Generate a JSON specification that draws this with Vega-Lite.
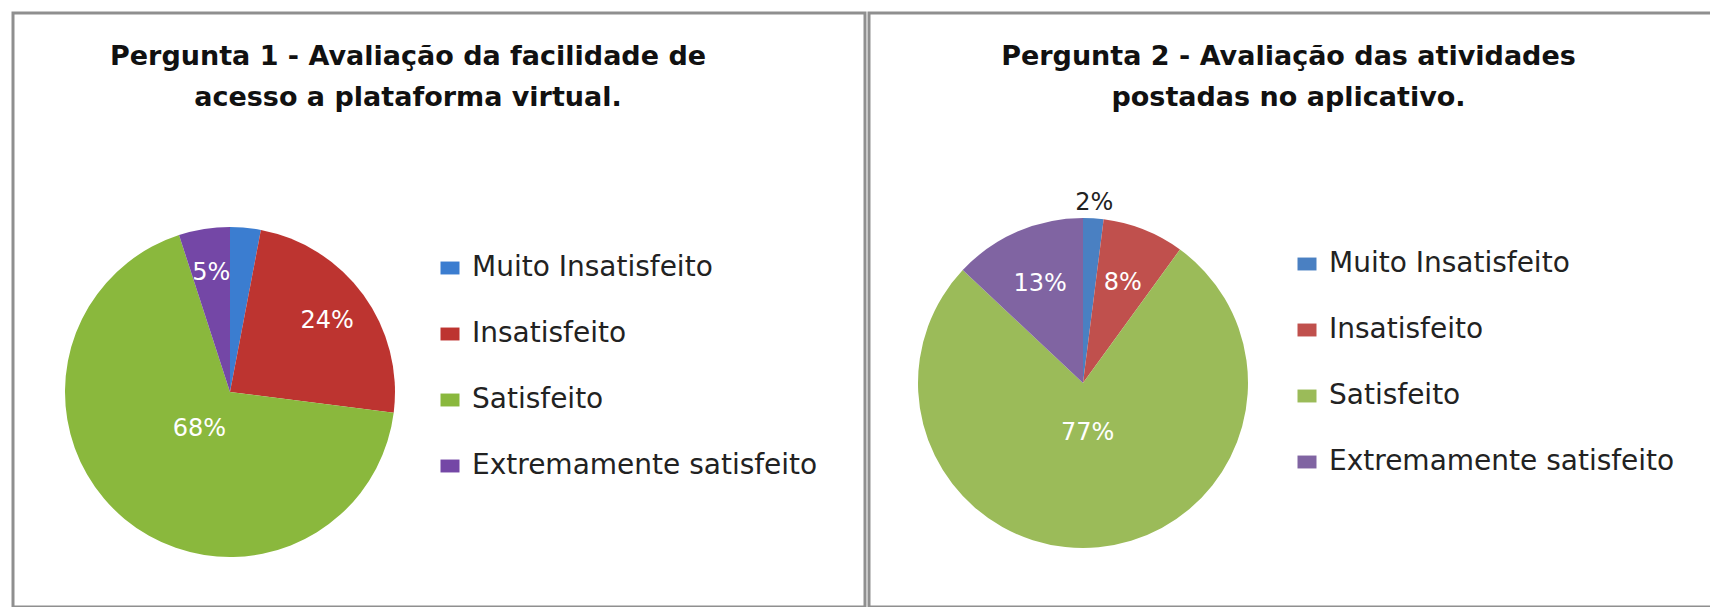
{
  "$schema": "https://vega.github.io/schema/vega-lite/v6.json",
  "padding": {"left": 11, "top": 11, "right": 0, "bottom": 0},
  "background": "white",
  "spacing": 0,
  "datasets": {
    "p1": [
      {"cat": "Muito Insatisfeito", "ord": 1, "pct": 3, "label": ""},
      {"cat": "Insatisfeito", "ord": 2, "pct": 24, "label": "24%"},
      {"cat": "Satisfeito", "ord": 3, "pct": 68, "label": "68%"},
      {"cat": "Extremamente satisfeito", "ord": 4, "pct": 5, "label": "5%"}
    ],
    "p2": [
      {"cat": "Muito Insatisfeito", "ord": 1, "pct": 2, "label": "2%"},
      {"cat": "Insatisfeito", "ord": 2, "pct": 8, "label": "8%"},
      {"cat": "Satisfeito", "ord": 3, "pct": 77, "label": "77%"},
      {"cat": "Extremamente satisfeito", "ord": 4, "pct": 13, "label": "13%"}
    ]
  },
  "hconcat": [
    {
      "width": 852,
      "height": 594,
      "view": {"stroke": "#8f8f8f", "strokeWidth": 3},
      "data": {"name": "p1"},
      "title": {"text": ["Pergunta 1 - Avaliação da facilidade de", "acesso a plataforma virtual."], "dx": -31},
      "encoding": {
        "theta": {"field": "pct", "type": "quantitative", "stack": true},
        "order": {"field": "ord", "type": "quantitative"},
        "color": {
          "field": "cat", "type": "nominal",
          "sort": ["Muito Insatisfeito", "Insatisfeito", "Satisfeito", "Extremamente satisfeito"],
          "scale": {"domain": ["Muito Insatisfeito", "Insatisfeito", "Satisfeito", "Extremamente satisfeito"], "range": ["#3b7dd0", "#bd3430", "#8ab83d", "#7447a6"]},
          "legend": {"orient": "none", "legendX": 423, "legendY": 241}
        }
      },
      "layer": [
        {"mark": {"type": "arc", "radius": 165, "x": 217, "y": 379}},
        {
          "mark": {"type": "text", "radius": 120, "x": 217, "y": 379, "fontSize": 24, "font": "DejaVu Sans"},
          "encoding": {
            "text": {"field": "label"},
            "fill": {"value": "white"},
            "opacity": {"condition": {"test": "datum.pct < 50", "value": 1}, "value": 0}
          }
        },
        {
          "mark": {"type": "text", "radius": 48, "x": 217, "y": 379, "fontSize": 24, "font": "DejaVu Sans"},
          "encoding": {
            "text": {"field": "label"},
            "fill": {"value": "white"},
            "opacity": {"condition": {"test": "datum.pct >= 50", "value": 1}, "value": 0}
          }
        }
      ]
    },
    {
      "width": 845,
      "height": 594,
      "view": {"stroke": "#8f8f8f", "strokeWidth": 3},
      "data": {"name": "p2"},
      "title": {"text": ["Pergunta 2 - Avaliação das atividades", "postadas no aplicativo."], "dx": -3},
      "encoding": {
        "theta": {"field": "pct", "type": "quantitative", "stack": true},
        "order": {"field": "ord", "type": "quantitative"},
        "color": {
          "field": "cat", "type": "nominal",
          "sort": ["Muito Insatisfeito", "Insatisfeito", "Satisfeito", "Extremamente satisfeito"],
          "scale": {"domain": ["Muito Insatisfeito", "Insatisfeito", "Satisfeito", "Extremamente satisfeito"], "range": ["#4a80c2", "#c0504d", "#9bbb59", "#8064a2"]},
          "legend": {"orient": "none", "legendX": 424, "legendY": 237}
        }
      },
      "layer": [
        {"mark": {"type": "arc", "radius": 165, "x": 214, "y": 370}},
        {
          "mark": {"type": "text", "radius": 108, "x": 214, "y": 370, "fontSize": 24, "font": "DejaVu Sans"},
          "encoding": {
            "text": {"field": "label"},
            "fill": {"value": "white"},
            "opacity": {"condition": {"test": "datum.pct >= 3 && datum.pct < 50", "value": 1}, "value": 0}
          }
        },
        {
          "mark": {"type": "text", "radius": 50, "x": 214, "y": 370, "fontSize": 24, "font": "DejaVu Sans"},
          "encoding": {
            "text": {"field": "label"},
            "fill": {"value": "white"},
            "opacity": {"condition": {"test": "datum.pct >= 50", "value": 1}, "value": 0}
          }
        },
        {
          "mark": {"type": "text", "radius": 180, "x": 214, "y": 370, "fontSize": 24, "font": "DejaVu Sans"},
          "encoding": {
            "text": {"field": "label"},
            "fill": {"value": "#222222"},
            "opacity": {"condition": {"test": "datum.pct < 3", "value": 1}, "value": 0}
          }
        }
      ]
    }
  ],
  "resolve": {"scale": {"color": "independent", "theta": "independent"}, "legend": {"color": "independent"}},
  "config": {
    "view": {"stroke": "#8f8f8f", "strokeWidth": 3},
    "title": {"font": "DejaVu Sans", "fontSize": 27, "fontWeight": "bold", "color": "#111111", "anchor": "middle", "frame": "group", "lineHeight": 41, "offset": -99, "baseline": "top"},
    "legend": {"title": null, "symbolType": "M-1,-0.68H1V0.68H-1Z", "symbolSize": 361, "symbolStrokeWidth": 0, "labelFont": "DejaVu Sans", "labelFontSize": 28, "labelColor": "#222222", "labelLimit": 600, "rowPadding": 38, "labelOffset": 8, "padding": 0}
  }
}
